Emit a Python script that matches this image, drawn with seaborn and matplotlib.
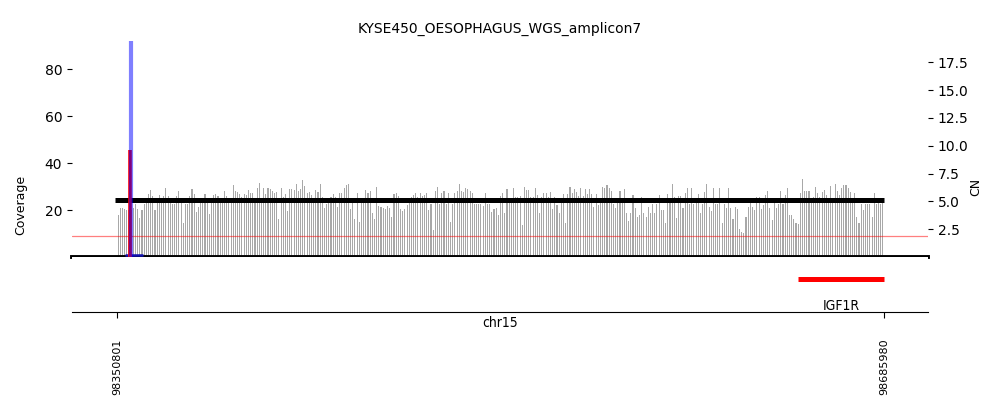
import numpy as np
import matplotlib
matplotlib.use("Agg")
import matplotlib.pyplot as plt
import pandas as pd
import seaborn as sns

sns.set_style("ticks", {"text.color": "black", "axes.labelcolor": "black",
                        "xtick.color": "black", "ytick.color": "black"})
plt.rcParams['font.family'] = ['DejaVu Sans']

title = "KYSE450_OESOPHAGUS_WGS_amplicon7"
chrom = "chr15"
start, end = 98350801, 98685980

# coverage per window, read left to right
cov = [18, 21, 21, 20.5, 20, 20, 20, 21, 22.5, 20.5, 16.5, 20, 22.5, 23, 27, 28.5, 26, 20, 23, 26.5,
       24.5, 26, 29.5, 26, 23, 22.5, 22.5, 26, 28, 23, 14.5, 22.5, 22.5, 26, 29, 27, 19, 21.5, 25, 24.5,
       27, 24.5, 18.5, 23, 26.5, 27, 26, 23, 23.5, 28, 26, 23, 23, 30.5, 28, 27.5, 27, 25.5, 27,
       26.4, 28.5, 27.4, 27.1, 24, 29.2, 31.6, 24, 29.2, 26.8, 29.6, 28.8, 28.2, 27.1, 27.5, 16.4, 29.2,
       25.7, 26.8, 19.6, 28.8, 28.8, 28.5, 30.9, 28.2, 28.8, 32.6, 30.2, 27.4, 27.8, 26.4, 24.3, 28.5, 27.8,
       31.3, 25.7, 21.1, 22.8, 25, 25.7, 26.8, 25.7, 21.4, 27.1, 27.4, 29.6, 30.6, 30.9, 20.3, 23.1, 16,
       27.4, 15, 23.6, 25, 28.5,
       27.1, 28.2, 18.6, 16, 29.9, 21.7, 21.4, 20.9, 20.3, 21.7, 20.9, 17.2, 26.8, 27.4, 26, 20.3, 19.6,
       20.3, 22.1, 25, 25.7, 26.4, 27.4, 25.4, 27.1, 26, 26.4, 27.1, 20, 22.8, 11.5, 28.2, 29.9, 22.4,
       27.4, 28.2, 22.8, 27.4, 15, 22.8, 27.1, 28.2, 30.9, 28.2, 27.5, 29.2, 28.8, 28.2, 27.4, 22.8, 22.8,
       22.8, 22.8, 21.7, 27.1, 22.8, 22.8, 19.3, 20.3, 21.1,
       17.9, 26, 27.1, 18.6, 28.8, 24, 24, 29.6, 25.4, 25.7, 26, 13.6, 29.9, 28.5, 28.5, 25.4, 25.7, 29.6,
       26.4, 18.9, 25.4, 27.1, 27.1, 25.7, 27.8, 20.3, 25.4, 22.1, 18.9, 24, 26.8, 14.3, 26.8, 29.9, 27.1,
       28.8, 27.9, 26, 29.6, 26, 28.8, 26.8, 29.1, 26.8, 21.4, 26.8, 22.1, 24, 29.9, 29.2, 30.6, 29.6,
       28.2, 22.8, 20.7, 24, 28.2, 24, 28.8, 18.9, 15.4, 18.6, 26.4,
       20.7, 17.2, 17.9, 25.7, 18.9, 17.2, 21.4, 18.6, 22.4, 18.6, 22.8, 26.4, 20, 20, 14.3, 26.8, 24,
       31.3, 25.7, 16.7, 26, 26, 21.1, 27.1, 29.6, 22.5, 29.2, 22.8, 24, 26.8, 18.6, 22.8, 27.8, 30.9,
       21.4, 19.8, 29.6, 22.8, 22.8, 29.2, 14.6, 22.8, 20.7, 29.2, 21.1, 16, 21.4, 20.3, 11.8, 10.8, 10.1,
       16.9, 21.4, 23.1, 21.4, 20, 25.4, 25.4,
       20.3, 22.1, 26.4, 28.2, 20.7, 15.7, 23.6, 21.1, 22.8, 28.2, 22.8, 26.4, 29.6, 17.9, 17.9, 16, 14.5,
       14, 27.4, 33.1, 28.1, 28.1, 28.1, 24, 25.4, 29.9, 27.1, 25.7, 27.8, 28.5, 26.4, 24, 30.2, 24, 30.9,
       28.2, 26.4, 29.6, 30.6, 30.6, 29.6, 27.8, 24, 27.1, 16.9, 14.3, 22.8, 20, 22.8, 22.8, 22.8, 16.9,
       27.4, 22.8, 24, 22.8, 24]

# copy number segments
seg_start = [98349900, 98354300]
seg_end = [98685980, 98362200]
seg_cn = [5.13, 0.16]
seg_color = ["black", "#1010b0"]

# breakpoint / edges
red_pos, red_cn = 98356350, 9.6
blue_pos = 98357000
base_cn = 1.9

# genes
gene_names = ["IGF1R"]
gene_start = [98648539]
gene_end = [98685980]

xmin, xmax = 98331136, 98705208

n = len(cov)
edges = np.linspace(start, end, n + 1)
df = pd.DataFrame({"pos": (edges[:-1] + edges[1:]) / 2, "cov": cov})

fig = plt.figure(figsize=(10, 4.16), dpi=100)
ax = fig.add_axes([0.072, 0.382, 0.856, 0.519])
ax2 = ax.twinx()
axg = fig.add_axes([0.072, 0.25, 0.856, 0.132])

sns.histplot(data=df, x="pos", weights="cov", bins=n, binrange=(start, end), shrink=0.5,
             color="#a8a8a8", alpha=1, linewidth=0, ax=ax)
ax.set_xlim(xmin, xmax)
ax.set_ylim(0, 91.9)
ax.set_yticks([20, 40, 60, 80])
ax.set_xticks([])
ax.set_xlabel("")
ax.set_ylabel("Coverage", fontsize=9)
ax.yaxis.set_label_coords(-0.0526, 0.24)
for s in ["top", "left", "right"]:
    ax.spines[s].set_visible(False)
ax.spines["bottom"].set_linewidth(2.8)
ax.spines["bottom"].set_color("black")

# CN axis
ax2.axhline(base_cn, color="red", alpha=0.5, lw=0.9)
for s, e, c, col in zip(seg_start, seg_end, seg_cn, seg_color):
    ax2.plot([s, e], [c, c], color=col, lw=3.6 if col == "black" else 1.8, solid_capstyle="butt")
ax2.plot([red_pos, red_pos], [0, red_cn], color="red", lw=2.6, solid_capstyle="butt")
ax2.axvline(blue_pos, color="blue", alpha=0.5, lw=3)
ax2.set_xlim(xmin, xmax)
ax2.set_ylim(0, 19.4)
ax2.set_yticks([2.5, 5.0, 7.5, 10.0, 12.5, 15.0, 17.5])
ax2.set_ylabel("CN", fontsize=9)
ax2.yaxis.set_label_coords(1.048, 0.324)
for s in ["top", "left", "right", "bottom"]:
    ax2.spines[s].set_visible(False)
ax.set_title(title, fontsize=10)

# gene track
for g, gs, ge in zip(gene_names, gene_start, gene_end):
    axg.plot([gs, ge], [0.6, 0.6], color="red", lw=3.6, solid_capstyle="butt")
    axg.text((gs + ge) / 2, 0.11, g, ha="center", va="center", fontsize=10,
             family="DejaVu Sans", stretch="condensed")
axg.set_xlim(xmin, xmax)
axg.set_ylim(0, 1)
axg.set_yticks([])
axg.set_xticks([start, end])
axg.set_xticklabels([str(start), str(end)], rotation=90, fontsize=8)
axg.tick_params(axis="x", pad=15, length=4.3)
for s in ["top", "left", "right"]:
    axg.spines[s].set_visible(False)
axg.spines["bottom"].set_color("black")
axg.text(0.5, -0.2, chrom, transform=axg.transAxes, ha="center", va="center",
         fontsize=10, family="DejaVu Sans", stretch="condensed")

plt.savefig("out.png", dpi=100)
plt.close()
